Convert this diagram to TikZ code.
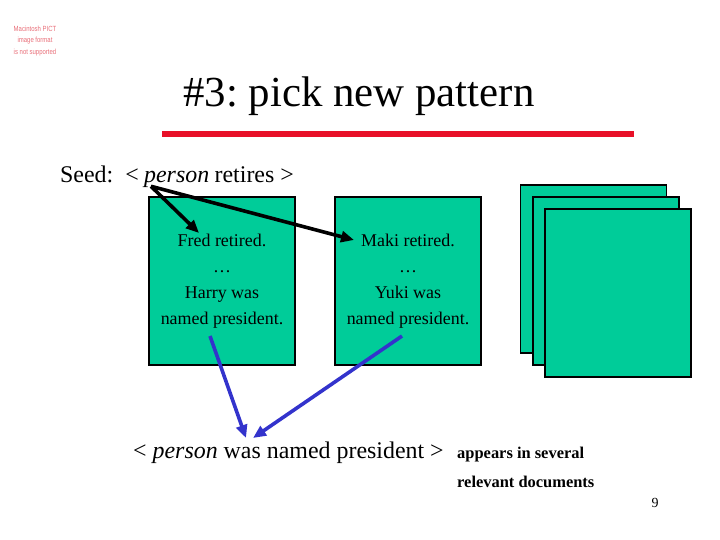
\documentclass[tikz,border=0pt]{standalone}
\usepackage{fontspec}
\setmainfont{Liberation Serif}
\newfontfamily\pictfont[FakeStretch=0.8]{Liberation Sans}
\usetikzlibrary{arrows.meta,positioning}
\definecolor{docgreen}{RGB}{0,204,153}
\definecolor{arrblue}{RGB}{51,51,204}
\definecolor{barred}{RGB}{232,16,40}
\definecolor{pictpink}{RGB}{232,110,120}
\frenchspacing
\begin{document}
\begin{tikzpicture}[x=1bp,y=-1bp,
  doc/.style={rectangle,draw,line width=1.6bp,fill=docgreen,minimum width=146bp,minimum height=168bp,
    align=center,font=\fontsize{18}{26}\selectfont,inner sep=0pt},
  seedarr/.style={line width=3.6bp,-{Triangle[length=13bp,width=11bp]}},
  patarr/.style={line width=3.6bp,arrblue,-{Triangle[length=13bp,width=11bp]}},
  txt/.style={inner sep=0pt,font=\fontsize{24}{26}\selectfont}
]
  \useasboundingbox (0,0) rectangle (720,540);
  \node[align=center,text=pictpink,font=\pictfont\fontsize{7.5}{11.5}\selectfont] (pict) at (35,41)
    {Macintosh PICT\\image format\\is not supported};
  \node[font=\fontsize{43}{46}\selectfont] (title) at (359,96) {\#3: pick new pattern};
  \draw[barred,line width=6bp] (162,134) -- (634,134);

  \node[txt,anchor=base west] (seed) at (60,183) {Seed:\ \ <};
  \node[txt,anchor=base west,xshift=5bp] (person) at (seed.base east) {\itshape person};
  \node[txt,anchor=base west,xshift=5bp] (retires) at (person.base east) {retires >};

  \node[doc] (fred) at (222,281) {Fred retired.\\\ldots\\Harry was\\named president.};
  \node[doc] (maki) at (408,281) {Maki retired.\\\ldots\\Yuki was\\named president.};
  \node[doc] (reldoc1) at (593.5,269) {};
  \node[doc] (reldoc2) at (606,281) {};
  \node[doc] (reldoc3) at (618,293) {};

  \coordinate (fredtip) at (199,233);
  \coordinate (makitip) at (354,240);
  \draw[seedarr] ([xshift=7bp,yshift=2bp]person.south west) -- (fredtip);
  \draw[seedarr] ([xshift=7bp,yshift=2bp]person.south west) -- (makitip);

  \node[txt,anchor=base west] (pattern) at (133,458) {< \textit{person} was named president >};
  \node[inner sep=0pt,anchor=base west,font=\bfseries\fontsize{16.5}{29}\selectfont] (appears) at (457,458) {appears in several};
  \node[inner sep=0pt,anchor=base west,font=\bfseries\fontsize{16.5}{29}\selectfont] (relevant) at (457,487) {relevant documents};
  \node[font=\fontsize{14}{16}\selectfont] (pagenum) at (655,503) {9};

  \coordinate (fredsrc) at (210,336);
  \coordinate (makisrc) at (402,336);
  \coordinate (pathit1) at (246,438);
  \coordinate (pathit2) at (253,438);
  \draw[patarr] (fredsrc) -- (pathit1);
  \draw[patarr] (makisrc) -- (pathit2);
\end{tikzpicture}
\end{document}
